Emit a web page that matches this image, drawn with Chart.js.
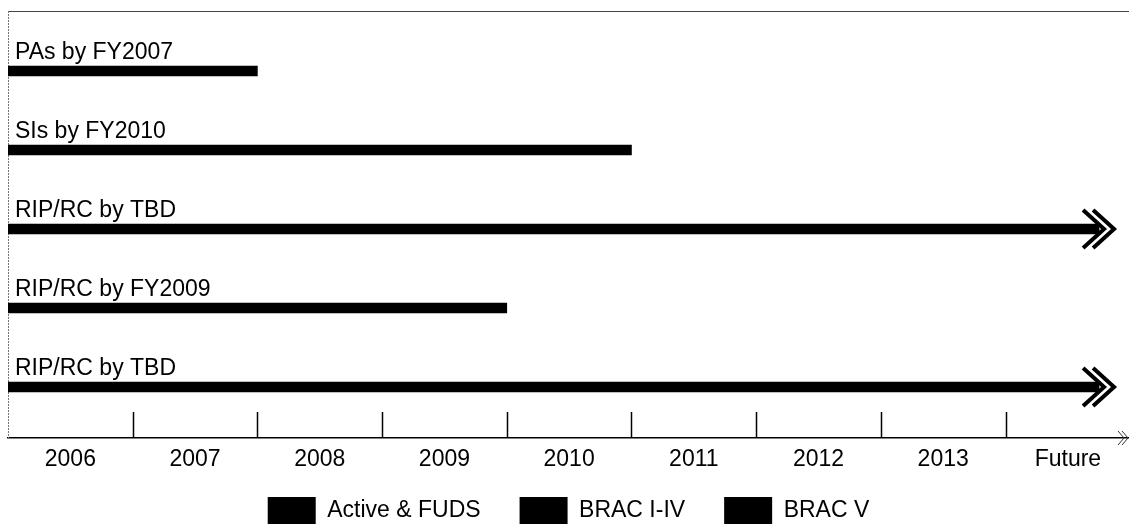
<!DOCTYPE html>
<html>
<head>
<meta charset="utf-8">
<script src="https://cdn.jsdelivr.net/npm/chart.js@4"></script>
<style>
  html, body { margin: 0; padding: 0; background: #fff; }
  #wrap { width: 1129px; height: 525px; }
</style>
</head>
<body>
<div id="wrap"><canvas id="timeline"></canvas></div>
<script>
  // Timeline categories along the bottom
  const years = ["2006", "2007", "2008", "2009", "2010", "2011", "2012", "2013", "Future"];

  // Rows, top to bottom: label, where the bar ends (in years from 2006), open ended or not
  const tasks = ["PAs by FY2007", "SIs by FY2010", "RIP/RC by TBD", "RIP/RC by FY2009", "RIP/RC by TBD"];
  const taskEnds = [2, 5, 8.75, 4, 8.75];
  const openEnded = [false, false, true, false, true];
  const taskGroup = [0, 0, 0, 1, 2];

  const groups = ["Active & FUDS", "BRAC I-IV", "BRAC V"];

  const FONT = "'Liberation Sans', Arial, sans-serif";

  const datasets = groups.map((g, gi) => ({
    label: g,
    backgroundColor: "#000",
    borderWidth: 0,
    barThickness: 10,
    grouped: false,
    data: tasks
      .map((t, i) => ({ x: taskEnds[i], y: i, row: i }))
      .filter((d) => taskGroup[d.row] === gi),
  }));

  function chevron(ctx, tipX, y, back, half) {
    ctx.beginPath();
    ctx.moveTo(tipX - back, y - half);
    ctx.lineTo(tipX, y);
    ctx.lineTo(tipX - back, y + half);
    ctx.stroke();
  }

  const decorations = {
    id: "decorations",
    afterLayout(chart) {
      // pull the legend up closer to the year labels
      const lg = chart.legend;
      if (lg) { lg.top -= 16; lg.bottom -= 16; }
    },
    beforeDatasetsDraw(chart) {
      const { ctx, chartArea: a, scales } = chart;
      const xs = scales.x;
      ctx.save();
      // top frame line
      ctx.strokeStyle = "#444";
      ctx.lineWidth = 1.2;
      ctx.beginPath();
      ctx.moveTo(a.left, a.top + 0.5);
      ctx.lineTo(a.right, a.top + 0.5);
      ctx.stroke();
      // dotted left frame
      ctx.strokeStyle = "#777";
      ctx.lineWidth = 1;
      ctx.setLineDash([2, 1]);
      ctx.beginPath();
      ctx.moveTo(a.left + 0.5, a.top);
      ctx.lineTo(a.left + 0.5, a.bottom);
      ctx.stroke();
      ctx.setLineDash([]);
      // year boundary ticks
      ctx.strokeStyle = "#000";
      ctx.lineWidth = 1.5;
      for (let i = 1; i < years.length; i++) {
        const px = Math.round(xs.getPixelForValue(i)) + 0.5;
        ctx.beginPath();
        ctx.moveTo(px, a.bottom - 26);
        ctx.lineTo(px, a.bottom);
        ctx.stroke();
      }
      // small arrow at the end of the time axis
      ctx.strokeStyle = "#333";
      ctx.lineWidth = 1;
      chevron(ctx, a.right - 1, a.bottom, 6, 7);
      chevron(ctx, a.right - 5, a.bottom, 6, 7);
      ctx.restore();
    },
    afterDatasetsDraw(chart) {
      const { ctx } = chart;
      ctx.save();
      ctx.font = "23px " + FONT;
      ctx.fillStyle = "#000";
      ctx.textAlign = "left";
      ctx.textBaseline = "alphabetic";
      chart.data.datasets.forEach((ds, di) => {
        const meta = chart.getDatasetMeta(di);
        meta.data.forEach((bar, j) => {
          const row = ds.data[j].row;
          const top = bar.y - bar.height / 2;
          ctx.fillText(tasks[row], bar.base + 7, top - 7);
          if (openEnded[row]) {
            ctx.strokeStyle = "#000";
            ctx.lineWidth = 4;
            ctx.lineCap = "butt";
            chevron(ctx, bar.x + 5, bar.y, 21, 19);
            chevron(ctx, bar.x + 15, bar.y, 21, 19);
          }
        });
      });
      ctx.restore();
    },
  };

  new Chart(document.getElementById("timeline"), {
    type: "bar",
    data: { datasets },
    options: {
      indexAxis: "y",
      responsive: true,
      maintainAspectRatio: false,
      animation: false,
      layout: { padding: { left: 8, top: 11, right: 0, bottom: -25 } },
      plugins: {
        tooltip: { enabled: false },
        legend: {
          position: "bottom",
          labels: {
            boxWidth: 48,
            boxHeight: 27,
            padding: 39,
            color: "#000",
            font: { family: FONT, size: 23 },
          },
        },
      },
      scales: {
        x: {
          type: "linear",
          min: 0,
          max: 8.99,
          grid: { display: false, drawTicks: false },
          border: { display: true, color: "#000", width: 1.5 },
          afterBuildTicks: (s) => {
            s.ticks = years.map((y, i) => ({ value: i + 0.5 }));
          },
          afterFit: (s) => {
            s.height = 36;
          },
          ticks: {
            autoSkip: false,
            maxRotation: 0,
            padding: 8,
            color: "#000",
            font: { family: FONT, size: 23 },
            callback: (v, i) => years[i],
          },
        },
        y: {
          type: "linear",
          reverse: true,
          offset: false,
          min: -0.76,
          max: 4.645,
          display: false,
        },
      },
    },
    plugins: [decorations],
  });
</script>
</body>
</html>
